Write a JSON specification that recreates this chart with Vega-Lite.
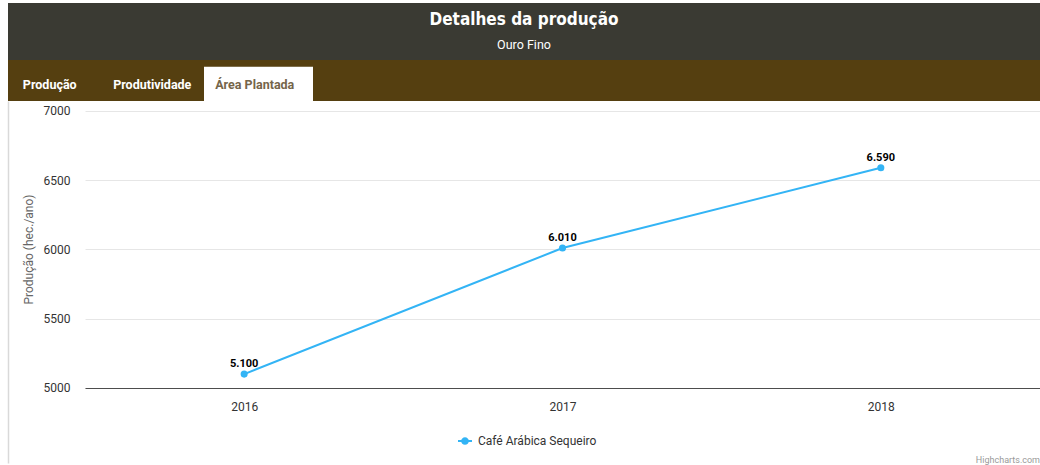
{
  "$schema": "https://vega.github.io/schema/vega-lite/v6.json",
  "padding": {"left": 8, "top": 3, "right": 0, "bottom": 0},
  "background": "white",
  "spacing": 0,
  "bounds": "flush",
  "config": {
    "locale": {"number": {"decimal": ",", "thousands": ".", "grouping": [3], "currency": ["R$", ""]}},
    "font": "Roboto",
    "view": {"stroke": null}
  },
  "vconcat": [
    {
      "width": 1032,
      "height": 57,
      "view": {"fill": "#3a3a33", "stroke": null},
      "layer": [
        {
          "data": {"values": [{"texto": "Detalhes da produção", "linha": "a"}]},
          "mark": {"type": "text", "font": "DejaVu Sans Condensed", "fontWeight": "bold", "fontSize": 17, "color": "#ffffff"},
          "encoding": {
            "text": {"field": "texto"},
            "y": {"field": "linha", "type": "nominal", "scale": {"type": "point", "domain": ["a", "b"], "range": [17, 42], "padding": 0}, "axis": null}
          }
        },
        {
          "data": {"values": [{"texto": "Ouro Fino", "linha": "b"}]},
          "mark": {"type": "text", "font": "Roboto", "fontSize": 12.5, "color": "#ffffff"},
          "encoding": {
            "text": {"field": "texto"},
            "y": {"field": "linha", "type": "nominal", "scale": {"type": "point", "domain": ["a", "b"], "range": [17, 42], "padding": 0}, "axis": null}
          }
        }
      ]
    },
    {
      "width": 1032,
      "height": 41,
      "view": {"fill": "#553f10", "stroke": null},
      "data": {"values": [
        {"aba": "Produção", "ativa": false},
        {"aba": "Produtividade", "ativa": false},
        {"aba": "Área Plantada", "ativa": true}
      ]},
      "resolve": {"scale": {"x": "independent"}},
      "layer": [
        {
          "transform": [{"filter": "datum.ativa"}],
          "mark": {"type": "bar", "color": "#ffffff"},
          "encoding": {
            "x": {"field": "aba", "type": "nominal", "scale": {"type": "band", "domain": ["Produção", "Produtividade", "Área Plantada"], "range": [-22, 305], "paddingInner": 0, "paddingOuter": 0}, "axis": null},
            "y": {"datum": 1, "type": "quantitative", "scale": {"domain": [0, 1.2], "nice": false, "zero": true}, "axis": null},
            "y2": {"datum": 0}
          }
        },
        {
          "mark": {"type": "text", "font": "Roboto", "fontWeight": "bold", "fontSize": 12.5},
          "encoding": {
            "text": {"field": "aba"},
            "x": {"field": "aba", "type": "nominal", "scale": {"type": "band", "domain": ["Produção", "Produtividade", "Área Plantada"], "range": [-9.5, 298], "paddingInner": 0, "paddingOuter": 0}, "axis": null},
            "y": {"datum": 0.47, "type": "quantitative"},
            "color": {"condition": {"test": "datum.ativa", "value": "#75654a"}, "value": "#ffffff"}
          }
        }
      ]
    },
    {
      "width": 1032,
      "height": 362,
      "view": {"fill": "#ffffff", "stroke": null},
      "data": {"values": [
        {"ano": "2016", "area": 5100, "serie": "Café Arábica Sequeiro"},
        {"ano": "2017", "area": 6010, "serie": "Café Arábica Sequeiro"},
        {"ano": "2018", "area": 6590, "serie": "Café Arábica Sequeiro"}
      ]},
      "resolve": {"scale": {"y": "independent"}, "axis": {"y": "independent"}},
      "layer": [
        {
          "encoding": {
            "x": {
              "field": "ano", "type": "ordinal",
              "scale": {"type": "point", "range": [77, 1032], "padding": 0.5},
              "axis": {
                "orient": "bottom", "offset": -75, "title": null, "labelAngle": 0,
                "domainColor": "#4d4d4d", "domainWidth": 1, "ticks": false,
                "labelPadding": 13, "labelFontSize": 12, "labelColor": "#333333", "labelFont": "Roboto", "grid": false
              }
            },
            "y": {
              "field": "area", "type": "quantitative",
              "scale": {"domain": [4458, 7072], "nice": false, "zero": false},
              "axis": {
                "orient": "left",
                "offset": -77, "values": [5000, 5500, 6000, 6500, 7000], "format": "d",
                "domain": false, "ticks": false, "labelPadding": 15,
                "labelFontSize": 12, "labelColor": "#333333", "labelFont": "Roboto",
                "grid": true, "gridColor": "#e6e6e6", "gridWidth": 1,
                "title": "Produção (hec./ano)", "titleFont": "Roboto", "titleFontSize": 12, "titleFontWeight": "normal", "titleColor": "#666666",
                "titleX": -57, "titleY": 148, "titleAngle": -90, "titleAlign": "center", "titleBaseline": "middle"
              }
            }
          },
          "layer": [
            {
              "mark": {"type": "line", "strokeWidth": 2, "point": {"filled": true, "size": 50}},
              "encoding": {
                "color": {
                  "field": "serie", "type": "nominal",
                  "scale": {"range": ["#33b4f5"]},
                  "legend": {
                    "orient": "none", "legendX": 450, "legendY": 431, "title": null,
                    "symbolType": "M-1,-0.15H1V0.15H-1Z M0.55,0A0.55,0.55 0 1,1 -0.55,0A0.55,0.55 0 1,1 0.55,0Z",
                    "symbolSize": 196, "symbolStrokeWidth": 0, "symbolFillColor": "#33b4f5",
                    "labelFontSize": 12, "labelColor": "#333333", "labelFont": "Roboto", "labelOffset": 6
                  }
                }
              }
            },
            {
              "mark": {"type": "text", "dy": -10, "fontWeight": "bold", "fontSize": 11, "font": "Roboto", "color": "#000000", "baseline": "middle"},
              "encoding": {"text": {"field": "area", "type": "quantitative", "format": ",d"}}
            },
            {
              "data": {"values": [{"credito": "Highcharts.com", "area": 4480}]},
              "mark": {"type": "text", "x": "width", "align": "right", "fontSize": 9, "color": "#999999", "font": "Roboto"},
              "encoding": {
                "text": {"field": "credito"},
                "x": null
              }
            }
          ]
        },
        {
          "data": {"values": [{"ano": "2016", "borda": 0}, {"ano": "2018", "borda": 1}]},
          "mark": {"type": "point", "opacity": 0},
          "encoding": {
            "x": {"field": "ano", "type": "ordinal"},
            "y": {
              "field": "borda", "type": "quantitative",
              "scale": {"domain": [0, 1], "nice": false},
              "axis": {"orient": "left", "offset": 0, "domain": true, "domainColor": "#d9d9d9", "domainWidth": 1.5, "labels": false, "ticks": false, "grid": false, "title": null}
            }
          }
        }
      ]
    }
  ]
}
